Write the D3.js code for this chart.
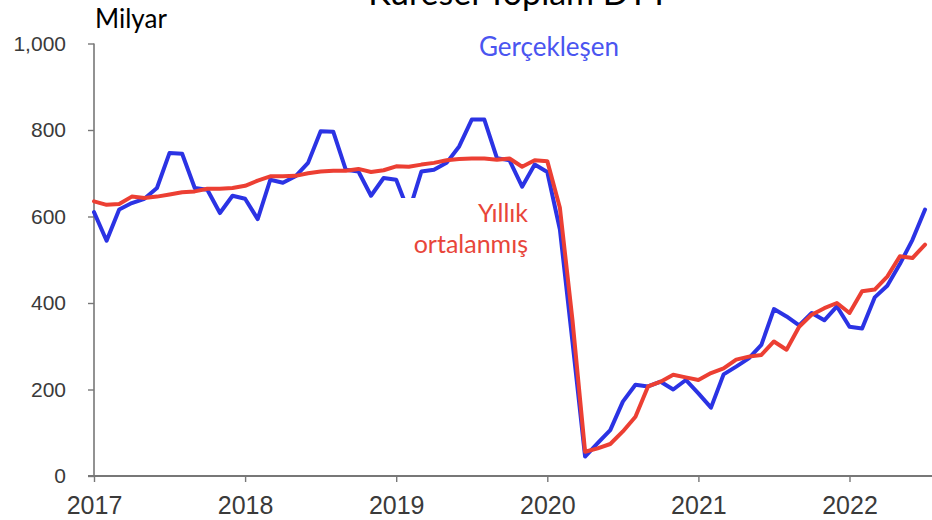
<!DOCTYPE html>
<html><head><meta charset="utf-8">
<script src="https://cdn.jsdelivr.net/npm/d3@7"></script>
<style>
html,body{margin:0;padding:0;background:#fff;}
svg{display:block;}
</style>
</head><body>
<svg id="chart" width="932" height="520"></svg>
<script>
const titleText = "Küresel Toplam DYY";
const unitLabel = "Milyar";
const seriesNames = ["Gerçekleşen", "Yıllık", "ortalanmış"];
const startYear = 2017;
const yearTicks = [2017, 2018, 2019, 2020, 2021, 2022];
const valueTicks = [0, 200, 400, 600, 800, 1000];

// Monthly values, Jan 2017 – Jul 2022
const actual = [
  610, 544, 616, 631, 641, 666, 747, 745, 666, 662, 608, 648,
  641, 594, 685, 678, 693, 724, 797, 796, 708, 704, 648, 689,
  685, 610, 704, 708, 724, 762, 824, 824, 735, 730, 669, 720,
  703, 570, 310, 45, 76, 106, 172, 211, 207, 218, 200, 222,
  191, 158, 235, 253, 272, 303, 386, 369, 348, 377, 360, 392,
  345, 341, 413, 440, 490, 546, 616
];
const annualized = [
  635, 627, 629, 646, 643, 646, 651, 656, 658, 664, 664, 666,
  671, 683, 693, 693, 694, 700, 704, 706, 706, 710, 703, 707,
  716, 715, 720, 724, 730, 733, 734, 734, 731, 734, 715, 730,
  728, 620, 360, 56, 64, 74, 103, 137, 207, 218, 234, 228,
  222, 238, 249, 269, 276, 280, 311, 292, 345, 373, 388, 400,
  377, 427, 431, 461, 508, 504, 535
];

const svg = d3.select("#chart");
const x = d3.scaleLinear().domain([2017, 2022]).range([94, 849.5]);
const y = d3.scaleLinear().domain([0, 1000]).range([476, 43.5]);
const t = i => startYear + i / 12;

const axisColor = "#777";
const labelColor = "#3a3a3a";

// Y axis
const yAxis = svg.append("g").attr("transform", "translate(94,0)")
  .call(d3.axisLeft(y).tickValues(valueTicks).tickSize(6).tickPadding(22)
    .tickFormat(d3.format(",")));
yAxis.select(".domain").attr("stroke", axisColor).attr("stroke-width", 1.6)
  .attr("d", `M0,${y(1000)}V${y(0)}`);
yAxis.selectAll(".tick line").attr("stroke", axisColor).attr("stroke-width", 1.4);
yAxis.selectAll(".tick text").attr("fill", labelColor)
  .style("font-family", "'Liberation Sans', Arial, sans-serif").style("font-size", "21px");

// X axis
const xAxis = svg.append("g").attr("transform", `translate(0,${y(0)})`)
  .call(d3.axisBottom(x).tickValues(yearTicks).tickSize(6).tickPadding(14)
    .tickFormat(d3.format("d")));
xAxis.select(".domain").attr("stroke", axisColor).attr("stroke-width", 1.8)
  .attr("d", "M88,0H932");
xAxis.selectAll(".tick line").attr("stroke", axisColor).attr("stroke-width", 1.4);
xAxis.selectAll(".tick text").attr("fill", labelColor)
  .style("font-family", "'Liberation Sans', Arial, sans-serif").style("font-size", "25px");

// Lines
const line = d3.line().x((d, i) => x(t(i))).y(d => y(d));
svg.append("path").datum(actual).attr("d", line)
  .attr("fill", "none").attr("stroke", "#2b33e4").attr("stroke-width", 4)
  .attr("stroke-linejoin", "round").attr("stroke-linecap", "round");
svg.append("path").datum(annualized).attr("d", line)
  .attr("fill", "none").attr("stroke", "#ec3f33").attr("stroke-width", 4)
  .attr("stroke-linejoin", "round").attr("stroke-linecap", "round");

// Label box for annualized series
svg.append("rect").attr("x", 382).attr("y", 198).attr("width", 162).attr("height", 68).attr("fill", "#fff");

const textFont = "Lato, 'Open Sans', sans-serif";
svg.append("text").attr("x", 528).attr("y", 222).attr("text-anchor", "end")
  .style("font-family", textFont).style("font-size", "25px").attr("fill", "#e8463a").text(seriesNames[1]);
svg.append("text").attr("x", 528).attr("y", 253).attr("text-anchor", "end")
  .style("font-family", textFont).style("font-size", "25px").attr("fill", "#e8463a").text(seriesNames[2]);
svg.append("text").attr("x", 549).attr("y", 56).attr("text-anchor", "middle")
  .style("font-family", textFont).style("font-size", "26px").attr("fill", "#4a55f0").text(seriesNames[0]);

// Unit label
svg.append("text").attr("x", 95).attr("y", 28)
  .style("font-family", textFont).style("font-size", "26px").attr("fill", "#000").text(unitLabel);

// Title (cut off at the top, as in the source)
svg.append("text").attr("x", 519).attr("y", 5).attr("text-anchor", "middle")
  .style("font-family", textFont).style("font-size", "34px").attr("fill", "#000").text(titleText);
</script>
</body></html>
